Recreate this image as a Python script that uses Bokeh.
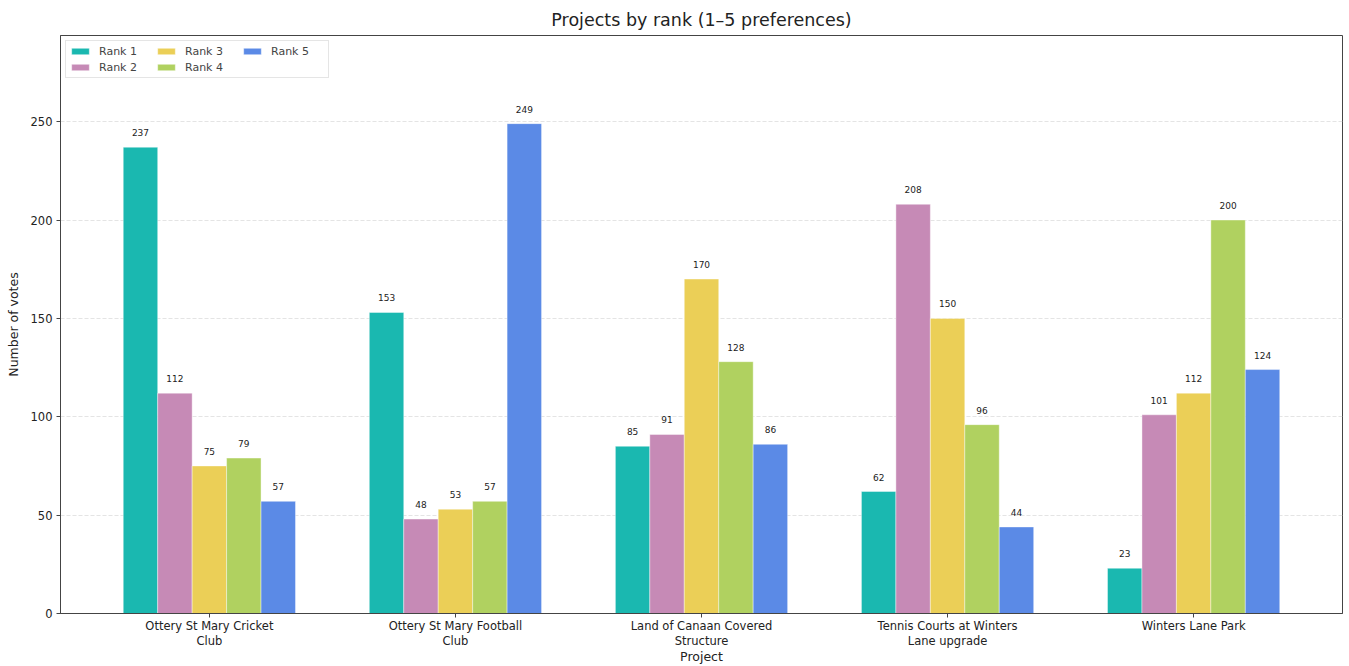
from bokeh.plotting import figure
from bokeh.models import ColumnDataSource, Range1d, FixedTicker, Legend, LegendItem, LabelSet
from bokeh.core.properties import value
from bokeh.embed import file_html
from bokeh.resources import INLINE

projects = ["Ottery St Mary Cricket\nClub", "Ottery St Mary Football\nClub",
            "Land of Canaan Covered\nStructure", "Tennis Courts at Winters\nLane upgrade",
            "Winters Lane Park"]
ranks = ["Rank 1", "Rank 2", "Rank 3", "Rank 4", "Rank 5"]
rank1 = [237, 153, 85, 62, 23]
rank2 = [112, 48, 91, 208, 101]
rank3 = [75, 53, 170, 150, 112]
rank4 = [79, 57, 128, 96, 200]
rank5 = [57, 249, 86, 44, 124]
y_ticks = [0, 50, 100, 150, 200, 250]
series = [rank1, rank2, rank3, rank4, rank5]
colors = ["#1ab8b0", "#c68ab6", "#ebcf57", "#b0d160", "#5b8ae6"]

FONT = "DejaVu Sans"
bw = 0.14

p = figure(width=1349, height=666, output_backend="svg", toolbar_location=None,
           x_range=Range1d(-0.605, 4.605), y_range=Range1d(0, 293.8),
           min_border_left=60, min_border_right=7, min_border_bottom=40, min_border_top=35)

p.title.text = "Projects by rank (1–5 preferences)"
p.title.text_font = FONT
p.title.text_font_size = "17.5px"
p.title.text_font_style = "normal"
p.title.align = "center"
p.title.text_color = "#222222"
p.title.offset = 0
p.title.standoff = 11

items = []
for i, (name, vals, col) in enumerate(zip(ranks, series, colors)):
    xs = [j + (i - 2) * bw for j in range(len(projects))]
    src = ColumnDataSource(dict(x=xs, top=vals, lab=[str(v) for v in vals]))
    r = p.vbar(x="x", top="top", width=bw, source=src, fill_color=col,
               line_color="white", line_alpha=0.4, line_width=1)
    items.append(LegendItem(label=name, renderers=[r]))
    lbl = LabelSet(x="x", y="top", text="lab", source=src, text_align="center",
                   text_baseline="bottom", y_offset=11, text_font=value(FONT),
                   text_font_size=value("9px"), text_color=value("#222222"))
    p.add_layout(lbl)

legend = Legend(items=items, location="top_left", nrows=2, orientation="vertical",
                label_text_font=FONT, label_text_font_size="11px",
                glyph_width=22, glyph_height=8, label_height=14, label_width=54,
                spacing=2, padding=3, margin=5, border_line_color="#cccccc",
                label_standoff=8, item_background_fill_alpha=0)
p.add_layout(legend)

p.xaxis.ticker = FixedTicker(ticks=list(range(len(projects))))
p.xaxis.major_label_overrides = {i: t for i, t in enumerate(projects)}
p.xaxis.axis_label = "Project"
p.yaxis.axis_label = "Number of votes"
p.yaxis.ticker = FixedTicker(ticks=y_ticks)
for ax in (p.xaxis, p.yaxis):
    ax.major_label_text_font = FONT
    ax.major_label_text_font_size = "11.5px"
    ax.major_label_text_color = "#222222"
    ax.axis_label_text_font = FONT
    ax.axis_label_text_font_size = "12.5px"
    ax.axis_label_text_font_style = "normal"
    ax.axis_label_text_color = "#222222"
    ax.minor_tick_line_color = None
    ax.major_tick_in = 0
    ax.major_tick_out = 4
    ax.axis_line_color = "#444444"
    ax.major_tick_line_color = "#444444"
p.xaxis.major_label_text_line_height = 1.1
p.xaxis.axis_label_standoff = -2
p.yaxis.axis_label_standoff = 7
p.xaxis.major_label_standoff = 1
p.yaxis.major_label_standoff = 4

p.xgrid.grid_line_color = None
p.ygrid.grid_line_color = "#dddddd"
p.ygrid.grid_line_dash = "4 2"
p.ygrid.grid_line_alpha = 0.8
p.outline_line_color = "#444444"
p.outline_line_width = 1

open("out.html", "w").write(file_html(p, INLINE))
